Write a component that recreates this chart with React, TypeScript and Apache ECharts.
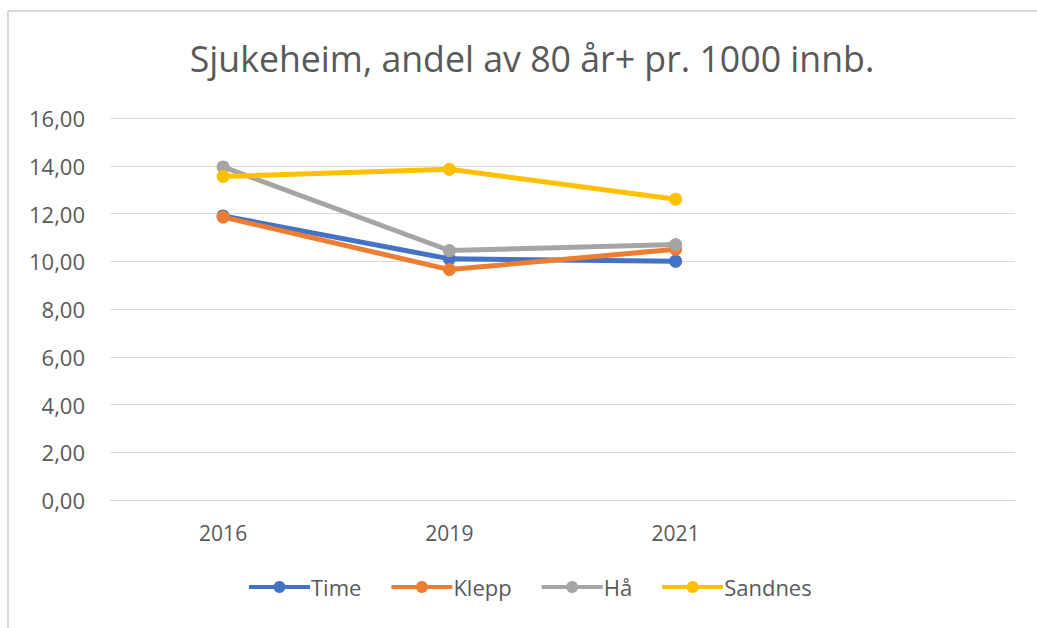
import React, { useEffect, useRef } from "react";
import * as echarts from "echarts";

const categories = ["2016", "2019", "2021", ""];
const timeValues = [11.9, 10.1, 10.0];
const kleppValues = [11.85, 9.65, 10.5];
const haValues = [13.95, 10.45, 10.7];
const sandnesValues = [13.55, 13.85, 12.6];
const seriesNames = ["Time", "Klepp", "Hå", "Sandnes"];
const seriesColors = ["#4472C4", "#ED7D31", "#A5A5A5", "#FFC000"];
const titleText = "Sjukeheim, andel av 80 år+ pr. 1000 innb.";

const FONT = "'Open Sans', 'Noto Sans', sans-serif";

export default function App() {
  const ref = useRef<HTMLDivElement>(null);
  useEffect(() => {
    document.body.style.margin = "0";
    const chart = echarts.init(ref.current!, null, { renderer: "svg" });
    const data = [timeValues, kleppValues, haValues, sandnesValues];
    chart.setOption({
      animation: false,
      backgroundColor: "#ffffff",
      graphic: [
        { type: "line", shape: { x1: 8, y1: 11, x2: 1037, y2: 11 }, style: { stroke: "#d9d9d9", lineWidth: 2 } },
        { type: "line", shape: { x1: 8, y1: 11, x2: 8, y2: 628 }, style: { stroke: "#d9d9d9", lineWidth: 2 } },
        {
          type: "text",
          x: 532,
          y: 58,
          style: {
            text: titleText,
            fontFamily: FONT,
            fontSize: 35.7,
            fill: "#595959",
            textAlign: "center",
            textVerticalAlign: "middle",
          },
        },
      ],
      legend: {
        top: 576,
        left: 247,
        padding: 0,
        itemWidth: 61,
        itemHeight: 15,
        itemGap: 28,
        data: seriesNames,
        lineStyle: { width: 4 },
        textStyle: { fontFamily: FONT, fontSize: 22, color: "#595959", padding: [0, 0, 0, -4] },
      },
      grid: { left: 110, right: 22, top: 118, bottom: 128 },
      xAxis: {
        type: "category",
        data: categories,
        boundaryGap: true,
        axisLine: { lineStyle: { color: "#d9d9d9" } },
        axisTick: { show: false },
        axisLabel: { fontFamily: FONT, fontSize: 21, color: "#595959", margin: 22 },
      },
      yAxis: {
        type: "value",
        min: 0,
        max: 16,
        interval: 2,
        axisLine: { show: false },
        axisTick: { show: false },
        splitLine: { lineStyle: { color: "#d9d9d9", width: 1 } },
        axisLabel: {
          fontFamily: FONT,
          fontSize: 22,
          color: "#595959",
          margin: 25,
          formatter: (v: number) => v.toFixed(2).replace(".", ","),
        },
      },
      series: seriesNames.map((name, i) => ({
        name,
        type: "line",
        data: data[i],
        symbol: "circle",
        symbolSize: 13,
        lineStyle: { color: seriesColors[i], width: 5 },
        itemStyle: { color: seriesColors[i] },
      })),
    });
    return () => chart.dispose();
  }, []);
  return <div ref={ref} style={{ width: 1037, height: 628 }} />;
}
